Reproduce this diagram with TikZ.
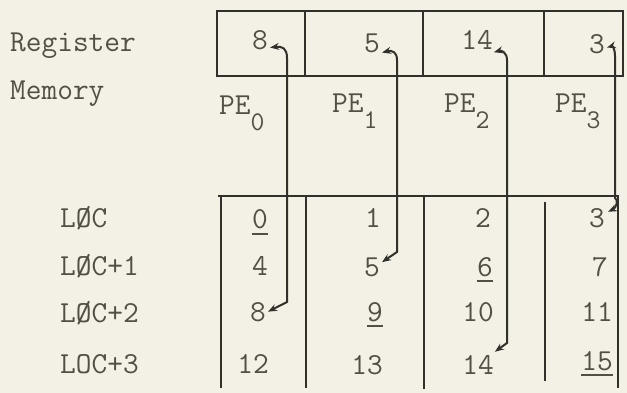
\documentclass[tikz,border=0pt]{standalone}
\usetikzlibrary{arrows.meta}
\definecolor{paper}{RGB}{243,240,229}
\definecolor{ink}{RGB}{50,48,42}
\definecolor{txt}{RGB}{82,79,71}
\newcommand\slO{\rlap{O}/}
\newcommand\sbs[1]{\raisebox{-16pt}{\fontsize{27}{27}\selectfont #1}}
\begin{document}
\begin{tikzpicture}[x=1pt,y=-1pt,
  every node/.style={font=\ttfamily\fontsize{30.5}{30.5}\selectfont, text=txt, inner sep=0pt},
  box/.style={draw=ink, line width=2.3pt},
  link/.style={draw=ink, line width=2pt, {Stealth[length=9pt,width=7pt]}-{Stealth[length=9pt,width=7pt]}},
  ul/.style={draw=txt, line width=1.4pt},
  val/.style={anchor=base}]
\fill[paper] (0,0) rectangle (627,393);
\useasboundingbox (0,0) rectangle (627,393);

% labels
\node[anchor=base west] (reglab) at (10,52) {Register};
\node[anchor=base west] (memlab) at (10,100) {Memory};
\node[anchor=base west] (l0) at (60,227) {L\slO C};
\node[anchor=base west] (l1) at (60,275) {L\slO C+1};
\node[anchor=base west] (l2) at (60,322) {L\slO C+2};
\node[anchor=base west] (l3) at (60,373) {LOC+3};

% register box
\draw[box] (217,11) rectangle (623,76);
\draw[box] (305,11) -- (305,76);
\draw[box] (423,11) -- (423,76);
\draw[box] (544,11) -- (544,76);

\node[val] (r0) at (260,50) {8};
\node[val] (r1) at (372,53) {5};
\node[val] (r2) at (477,50) {14};
\node[val] (r3) at (597,54) {3};

% PE labels
\node[anchor=base west] (pe0) at (219,115) {PE\sbs{0}};
\node[anchor=base west] (pe1) at (332,113) {PE\sbs{1}};
\node[anchor=base west] (pe2) at (444,113) {PE\sbs{2}};
\node[anchor=base west] (pe3) at (555,113) {PE\sbs{3}};

% memory table
\draw[box] (218,196) -- (619,196);
\draw[box] (221,196) -- (221,388);
\draw[box] (306,196) -- (306,388);
\draw[box] (424,196) -- (424,389);
\draw[box] (545,202) -- (545,381);
\draw[box] (618,196) -- (618,388);

% memory values
\node[val] (m0) at (260,229) {0};
\node[val] (m1) at (373,228) {1};
\node[val] (m2) at (483,228) {2};
\node[val] (m3) at (597,228) {3};
\node[val] (m4) at (260,275) {4};
\node[val] (m5) at (372,276) {5};
\node[val] (m6) at (485,276) {6};
\node[val] (m7) at (600,276) {7};
\node[val] (m8) at (258,321) {8};
\node[val] (m9) at (375,321) {9};
\node[val] (m10) at (478,321) {10};
\node[val] (m11) at (597,321) {11};
\node[val] (m12) at (253,373) {12};
\node[val] (m13) at (367,374) {13};
\node[val] (m14) at (478,374) {14};
\node[val] (m15) at (597,370) {15};

% underlines
\foreach \n in {m0,m6,m9,m15}
  \draw[ul] ([yshift=-5pt]\n.base west) -- ([yshift=-5pt]\n.base east);

% transfers
\coordinate (a0) at (287,58);
\coordinate (b0) at (287,302);
\draw[link] ([shift={(2,-3)}]r0.south east) .. controls (282,46) and (287,48) .. (a0) -- (b0) -- ([xshift=2pt]m8.east);

\coordinate (a1) at (397,60);
\coordinate (b1) at (397,252);
\draw[link] ([shift={(2,-1)}]r1.south east) .. controls (392,50) and (397,52) .. (a1) -- (b1) -- ([shift={(2,5)}]m5.north east);

\coordinate (a2) at (507,60);
\coordinate (b2) at (507,343);
\draw[link] ([shift={(1,2)}]r2.south east) .. controls (502,50) and (507,53) .. (a2) -- (b2) -- ([shift={(1,-3)}]m14.north east);

\coordinate (a3) at (615,56);
\coordinate (b3) at (615,198);
\draw[link] ([shift={(2,-7)}]r3.south east) .. controls (612,46) and (615,48) .. (a3) -- (b3) .. controls (619,200) and (616,208) .. ([shift={(3,3)}]m3.north east);
\end{tikzpicture}
\end{document}
